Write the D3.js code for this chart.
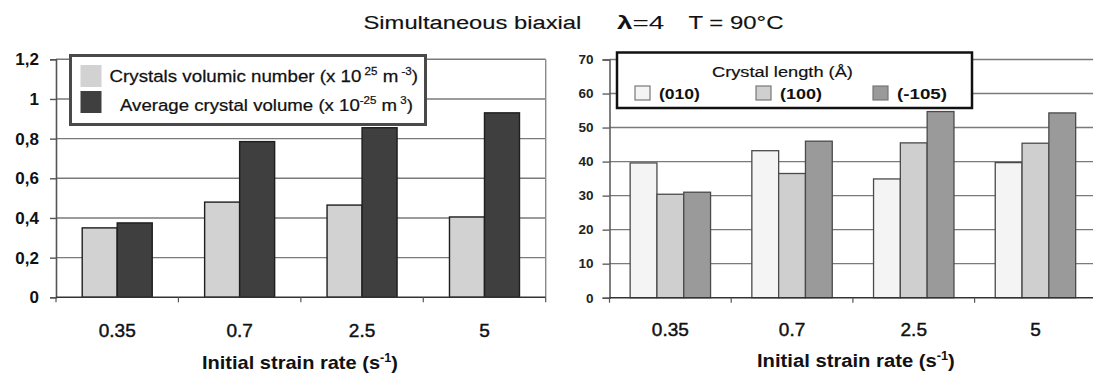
<!DOCTYPE html>
<html><head><meta charset="utf-8">
<script src="https://cdn.jsdelivr.net/npm/d3@7"></script>
<style>
html,body{margin:0;padding:0;background:#fff;}
svg{display:block;font-family:"Liberation Sans",Arial,sans-serif;}
</style></head>
<body>
<svg id="chart" width="1093" height="377"></svg>
<script>
// ---------- DATA ----------
const categories = ["0.35", "0.7", "2.5", "5"];

// left chart
const leftSeries = ["volumicNumber", "crystalVolume"];
const volumicNumber = [0.35, 0.48, 0.465, 0.405];   // x 10^25 m^-3
const crystalVolume = [0.375, 0.785, 0.855, 0.93];  // x 10^-25 m^3
const leftTicks = [0, 0.2, 0.4, 0.6, 0.8, 1, 1.2];
const leftTickLabels = ["0", "0,2", "0,4", "0,6", "0,8", "1", "1,2"];

// right chart
const rightSeries = ["(010)", "(100)", "(-105)"];
const len010 = [39.6, 43.2, 34.9, 39.7];
const len100 = [30.4, 36.5, 45.5, 45.4];
const len105 = [31.0, 46.0, 54.7, 54.3];
const rightTicks = [0, 10, 20, 30, 40, 50, 60, 70];
const rightTickLabels = ["0", "10", "20", "30", "40", "50", "60", "70"];

const xTitle = "Initial strain rate";
const mainTitle = "Simultaneous biaxial";
// ---------- END DATA ----------

const svg = d3.select("#chart");

function fitText(g, x, y, targetW) {
  const bb = g.node().getBBox();
  const s = targetW / bb.width;
  g.attr("transform", `translate(${x - bb.x * s},${y}) scale(${s},1)`);
}

// ===== LEFT CHART =====
(function () {
  const L = 56, R = 545.7, B = 297.3, T = 59.3;
  const x0 = d3.scaleBand().domain(categories).range([L, R]).padding(0);
  const x1 = d3.scaleBand().domain(leftSeries).range([0, x0.bandwidth()])
    .paddingInner(0).paddingOuter(0.7486);
  const y = d3.scaleLinear().domain([0, 1.2]).range([B, T]);
  const color = { volumicNumber: "#d2d2d2", crystalVolume: "#3f3f3f" };
  const vals = { volumicNumber, crystalVolume };

  const g = svg.append("g");
  g.selectAll("line.grid").data(leftTicks.slice(1)).join("line")
    .attr("x1", L).attr("x2", R).attr("y1", d => y(d)).attr("y2", d => y(d))
    .attr("stroke", "#7a7a7a").attr("stroke-width", 1.4);
  g.append("line").attr("x1", R).attr("x2", R).attr("y1", T).attr("y2", B)
    .attr("stroke", "#8a8a8a").attr("stroke-width", 1.4);

  categories.forEach((c, i) => {
    leftSeries.forEach(s => {
      g.append("rect")
        .attr("x", x0(c) + x1(s)).attr("width", x1.bandwidth())
        .attr("y", y(vals[s][i])).attr("height", B - y(vals[s][i]))
        .attr("fill", color[s]).attr("stroke", "#1e1e1e").attr("stroke-width", 1.4);
    });
  });

  const ya = g.append("g").attr("transform", `translate(${L},0)`)
    .call(d3.axisLeft(y).tickValues(leftTicks).tickFormat((d, i) => leftTickLabels[i]).tickSize(6).tickPadding(11));
  ya.select(".domain").attr("stroke", "#555").attr("stroke-width", 1.6);
  ya.selectAll(".tick line").attr("stroke", "#555").attr("stroke-width", 1.4);
  ya.selectAll(".tick text").attr("font-size", 17).attr("font-weight", "bold")
    .attr("fill", "#111").attr("font-family", "Liberation Sans, Arial");

  g.append("line").attr("x1", L).attr("x2", R).attr("y1", B).attr("y2", B)
    .attr("stroke", "#333").attr("stroke-width", 1.6);
  const bounds = categories.map(c => x0(c)).concat([R]);
  g.selectAll("line.xt").data(bounds).join("line")
    .attr("x1", d => d).attr("x2", d => d).attr("y1", B).attr("y2", B + 5)
    .attr("stroke", "#555").attr("stroke-width", 1.2);
  g.selectAll("text.xl").data(categories).join("text")
    .attr("x", d => x0(d) + x0.bandwidth() / 2).attr("y", 337)
    .attr("text-anchor", "middle").attr("font-size", 19).attr("fill", "#111")
    .attr("stroke", "#111").attr("stroke-width", 0.45)
    .text(d => d);

  const tg = g.append("g");
  const tt = tg.append("text").attr("font-size", 19).attr("font-weight", "bold").attr("fill", "#111");
  tt.append("tspan").text(xTitle + " (s");
  tt.append("tspan").attr("font-size", 12).attr("dy", -7).text("-1");
  tt.append("tspan").attr("dy", 7).text(")");
  fitText(tg, 202, 369, 196);

  // legend
  g.append("rect").attr("x", 70.5).attr("y", 55.5).attr("width", 355).attr("height", 69)
    .attr("fill", "#fff").attr("stroke", "#4a4a4a").attr("stroke-width", 3);
  g.append("rect").attr("x", 80.5).attr("y", 65).attr("width", 21).attr("height", 22).attr("fill", color.volumicNumber);
  g.append("rect").attr("x", 80.5).attr("y", 91).attr("width", 21).attr("height", 22).attr("fill", color.crystalVolume);

  const l1g = g.append("g");
  const l1 = l1g.append("text").attr("font-size", 17).attr("fill", "#111")
    .attr("stroke", "#111").attr("stroke-width", 0.25);
  l1.append("tspan").text("Crystals volumic number (x 10");
  l1.append("tspan").attr("font-size", 10.5).attr("dy", -6.5).text(" 25");
  l1.append("tspan").attr("dy", 6.5).text(" m");
  l1.append("tspan").attr("font-size", 10.5).attr("dy", -6.5).text(" -3");
  l1.append("tspan").attr("dy", 6.5).text(")");
  fitText(l1g, 109.5, 81.5, 309);

  const l2g = g.append("g");
  const l2 = l2g.append("text").attr("font-size", 17).attr("fill", "#111")
    .attr("stroke", "#111").attr("stroke-width", 0.25);
  l2.append("tspan").text("Average crystal volume (x 10");
  l2.append("tspan").attr("font-size", 10.5).attr("dy", -6.5).text("-25");
  l2.append("tspan").attr("dy", 6.5).text(" m");
  l2.append("tspan").attr("font-size", 10.5).attr("dy", -6.5).text(" 3");
  l2.append("tspan").attr("dy", 6.5).text(")");
  fitText(l2g, 120, 110.5, 293);
})();

// ===== RIGHT CHART =====
(function () {
  const L = 609.5, R = 1096.3, B = 297.7, T = 59.5;
  const x0 = d3.scaleBand().domain(categories).range([L, R]).padding(0);
  const x1 = d3.scaleBand().domain(rightSeries).range([0, x0.bandwidth()])
    .paddingInner(0).paddingOuter(0.77);
  const y = d3.scaleLinear().domain([0, 70]).range([B, T]);
  const color = { "(010)": "#f4f4f4", "(100)": "#cfcfcf", "(-105)": "#9a9a9a" };
  const vals = { "(010)": len010, "(100)": len100, "(-105)": len105 };

  const g = svg.append("g");
  g.selectAll("line.grid").data(rightTicks.slice(1)).join("line")
    .attr("x1", L).attr("x2", 1093).attr("y1", d => y(d)).attr("y2", d => y(d))
    .attr("stroke", "#7a7a7a").attr("stroke-width", 1.4);

  categories.forEach((c, i) => {
    rightSeries.forEach(s => {
      g.append("rect")
        .attr("x", x0(c) + x1(s)).attr("width", x1.bandwidth())
        .attr("y", y(vals[s][i])).attr("height", B - y(vals[s][i]))
        .attr("fill", color[s]).attr("stroke", "#4a4a4a").attr("stroke-width", 1.3);
    });
  });

  const ya = g.append("g").attr("transform", `translate(${L},0)`)
    .call(d3.axisLeft(y).tickValues(rightTicks).tickFormat((d, i) => rightTickLabels[i]).tickSize(7).tickPadding(9));
  ya.select(".domain").attr("stroke", "#555").attr("stroke-width", 1.5);
  ya.selectAll(".tick line").attr("stroke", "#555").attr("stroke-width", 1.3);
  ya.selectAll(".tick text").attr("font-size", 13.5).attr("font-weight", "bold")
    .attr("fill", "#222").attr("font-family", "Liberation Sans, Arial");

  g.append("line").attr("x1", L).attr("x2", 1093).attr("y1", B).attr("y2", B)
    .attr("stroke", "#333").attr("stroke-width", 1.6);
  const bounds = categories.map(c => x0(c));
  g.selectAll("line.xt").data(bounds).join("line")
    .attr("x1", d => d).attr("x2", d => d).attr("y1", B).attr("y2", B + 5)
    .attr("stroke", "#555").attr("stroke-width", 1.2);
  g.selectAll("text.xl").data(categories).join("text")
    .attr("x", d => x0(d) + x0.bandwidth() / 2).attr("y", 336)
    .attr("text-anchor", "middle").attr("font-size", 19).attr("fill", "#111")
    .attr("stroke", "#111").attr("stroke-width", 0.45)
    .text(d => d);

  const tg = g.append("g");
  const tt = tg.append("text").attr("font-size", 19).attr("font-weight", "bold").attr("fill", "#111");
  tt.append("tspan").text(xTitle + " (s");
  tt.append("tspan").attr("font-size", 12).attr("dy", -7).text("-1");
  tt.append("tspan").attr("dy", 7).text(")");
  fitText(tg, 757, 367, 198);

  // legend
  g.append("rect").attr("x", 617).attr("y", 52.5).attr("width", 355).attr("height", 55.5)
    .attr("fill", "#fff").attr("stroke", "#111").attr("stroke-width", 2.5);
  const lt = g.append("g");
  lt.append("text").attr("font-size", 15.5).attr("fill", "#111")
    .attr("stroke", "#111").attr("stroke-width", 0.2).text("Crystal length (\u00C5)");
  fitText(lt, 712, 76.5, 141);
  const itemX = [635, 756, 873];
  const labW = [41, 42, 50];
  rightSeries.forEach((s, i) => {
    g.append("rect").attr("x", itemX[i]).attr("y", 86).attr("width", 15).attr("height", 14)
      .attr("fill", color[s]).attr("stroke", "#777").attr("stroke-width", 1.2);
    const lg = g.append("g");
    lg.append("text").attr("font-size", 15.5).attr("font-weight", "bold").attr("fill", "#111").text(s);
    fitText(lg, itemX[i] + 24, 99, labW[i]);
  });
})();

// ===== MAIN TITLE =====
(function () {
  const g1 = svg.append("g");
  g1.append("text").attr("font-size", 19).attr("fill", "#111")
    .attr("stroke", "#111").attr("stroke-width", 0.15).text(mainTitle);
  fitText(g1, 363.5, 29, 218);
  const g2 = svg.append("g");
  const t2 = g2.append("text").attr("font-size", 19).attr("fill", "#111");
  t2.append("tspan").attr("font-weight", "bold").text("\u03BB");
  t2.append("tspan").text("=4");
  fitText(g2, 617, 29, 48);
  const g3 = svg.append("g");
  g3.append("text").attr("font-size", 19).attr("fill", "#111")
    .attr("stroke", "#111").attr("stroke-width", 0.15).text("T = 90\u00B0C");
  fitText(g3, 688.5, 29, 95);
})();
</script>
</body></html>
